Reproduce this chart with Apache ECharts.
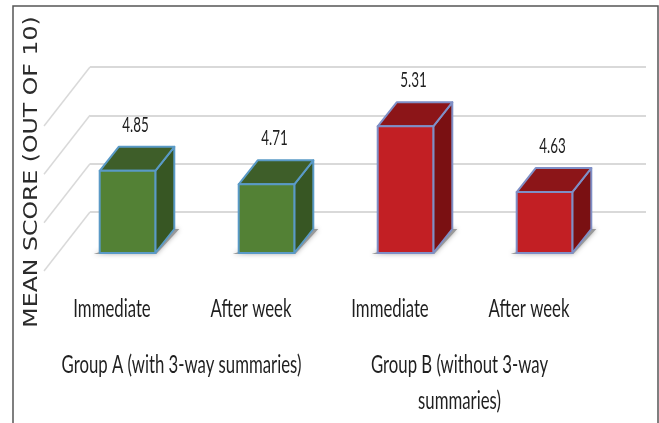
<!DOCTYPE html>
<html>
<head>
<meta charset="utf-8">
<style>
  html, body { margin: 0; padding: 0; background: #fff; }
  #chart { width: 659px; height: 423px; }
</style>
<script src="https://cdn.jsdelivr.net/npm/echarts@6/dist/echarts.min.js"></script>
</head>
<body>
<div id="chart"></div>
<script>
const timepoints = ['Immediate', 'After week', 'Immediate', 'After week'];
const groups = ['Group A (with 3-way summaries)', 'Group B (without 3-way\nsummaries)'];
const scores = [4.85, 4.71, 5.31, 4.63];
const groupOfBar = [0, 0, 1, 1];
const gridValues = [4, 4.5, 5, 5.5];
const yTitle = 'MEAN SCORE (OUT OF 10)';

const labelFont = 'Lato, sans-serif';
const labelColor = '#1f1f1f';

// pixel offsets of the fake 3d box, measured from the back wall
const FRONT_DX = -32;
const FRONT_DY = 41;
const DEPTH_DX = 19;
const DEPTH_DY = -24;
const FLOOR_DX = -46;
const FLOOR_DY = 59;

const palettes = [
  { front: '#538135', side: '#375623', top: '#3e5e29', edge: '#5a9ac6' },
  { front: '#c21f24', side: '#7a1012', top: '#8c1518', edge: '#7f8fc6' },
];

// text squeezed sideways, the original labels are horizontally condensed
function squashedText(x, y, text, size, squash) {
  return {
    type: 'text',
    x,
    y,
    scaleX: squash,
    style: {
      x: 0,
      y: 0,
      text,
      fill: labelColor,
      font: size + 'px ' + labelFont,
      align: 'center',
      verticalAlign: 'middle',
      lineHeight: 36,
    },
  };
}

function renderDiagonal(params, api) {
  const p = api.coord([0, api.value(0)]);
  const x = p[0] - api.size([1, 0])[0] / 2;
  return {
    type: 'line',
    shape: { x1: x, y1: p[1], x2: x + FLOOR_DX, y2: p[1] + FLOOR_DY },
    style: { stroke: '#d9d9d9', lineWidth: 1.5 },
  };
}

function renderBox(params, api) {
  const i = api.value(0);
  const top = api.coord([i, api.value(1)]);
  const base = api.coord([i, gridValues[0]]);
  const w = api.size([1, 0])[0] * 0.4;
  const l = top[0] + FRONT_DX - w / 2;
  const r = l + w;
  const t = top[1] + FRONT_DY;
  const b = base[1] + FRONT_DY;
  const c = palettes[groupOfBar[i]];
  const edge = { stroke: c.edge, lineWidth: 2, lineJoin: 'round' };
  const poly = (points, fill) => ({
    type: 'polygon',
    shape: { points },
    style: { fill, ...edge },
  });
  return {
    type: 'group',
    children: [
      {
        type: 'polygon',
        shape: {
          points: [
            [l - 6, b + 1],
            [r + 1, b + 1],
            [r + DEPTH_DX + 5, b + DEPTH_DY],
            [r + DEPTH_DX - 4, b + DEPTH_DY],
          ],
        },
        style: { fill: '#999', shadowBlur: 5, shadowColor: '#aaa' },
      },
      poly([[r, t], [r + DEPTH_DX, t + DEPTH_DY], [r + DEPTH_DX, b + DEPTH_DY], [r, b]], c.side),
      poly([[l, t], [l + DEPTH_DX, t + DEPTH_DY], [r + DEPTH_DX, t + DEPTH_DY], [r, t]], c.top),
      poly([[l, t], [r, t], [r, b], [l, b]], c.front),
      squashedText((l + r) / 2 + 8, t + DEPTH_DY - 22, api.value(1).toFixed(2), 21, 0.64),
    ],
  };
}

function renderTimepoint(params, api) {
  const p = api.coord([api.value(0), gridValues[0]]);
  return squashedText(p[0] - 47.5, p[1] + 97, timepoints[api.value(0)], 25, 0.67);
}

function renderGroup(params, api) {
  const p = api.coord([api.value(0), gridValues[0]]);
  const text = groups[api.value(0)];
  const lines = text.split('\n').length;
  return squashedText(p[0] - 47.5, p[1] + 153 + (lines - 1) * 18, text, 25, 0.67);
}

const chart = echarts.init(document.getElementById('chart'), null, { renderer: 'canvas' });
chart.setOption({
  animation: false,
  backgroundColor: '#fff',
  grid: { left: 90, right: 13, top: 67, height: 145, outerBoundsMode: 'none' },
  graphic: [
    {
      type: 'polyline',
      shape: { points: [[13, 423], [13, 6], [658, 6], [658, 423]] },
      style: { fill: 'none', stroke: '#555', lineWidth: 1.5 },
    },
    {
      type: 'text',
      x: 32,
      y: 172,
      rotation: Math.PI / 2,
      scaleX: 1.18,
      style: {
        text: yTitle,
        fill: '#2b2b2b',
        font: '20px "DejaVu Sans", sans-serif',
        align: 'center',
        verticalAlign: 'middle',
      },
    },
  ],
  xAxis: [
    {
      type: 'category',
      data: timepoints,
      axisLine: { show: false },
      axisTick: { show: false },
      axisLabel: { show: false },
    },
    {
      type: 'category',
      position: 'bottom',
      data: groups,
      axisLine: { show: false },
      axisTick: { show: false },
      axisLabel: { show: false },
    },
  ],
  yAxis: {
    type: 'value',
    min: 4,
    max: 5.5,
    interval: 0.5,
    axisLine: { show: false },
    axisTick: { show: false },
    axisLabel: { show: false },
    splitLine: { lineStyle: { color: '#d9d9d9', width: 2 } },
  },
  series: [
    {
      type: 'custom',
      data: gridValues.map((v) => [v]),
      encode: { y: 0 },
      renderItem: renderDiagonal,
      silent: true,
    },
    {
      type: 'custom',
      data: scores.map((v, i) => [i, v]),
      encode: { x: 0, y: 1 },
      renderItem: renderBox,
      silent: true,
    },
    {
      type: 'custom',
      data: timepoints.map((v, i) => [i]),
      encode: { x: 0 },
      renderItem: renderTimepoint,
      silent: true,
    },
    {
      type: 'custom',
      xAxisIndex: 1,
      data: groups.map((v, i) => [i]),
      encode: { x: 0 },
      renderItem: renderGroup,
      silent: true,
    },
  ],
});
</script>
</body>
</html>
